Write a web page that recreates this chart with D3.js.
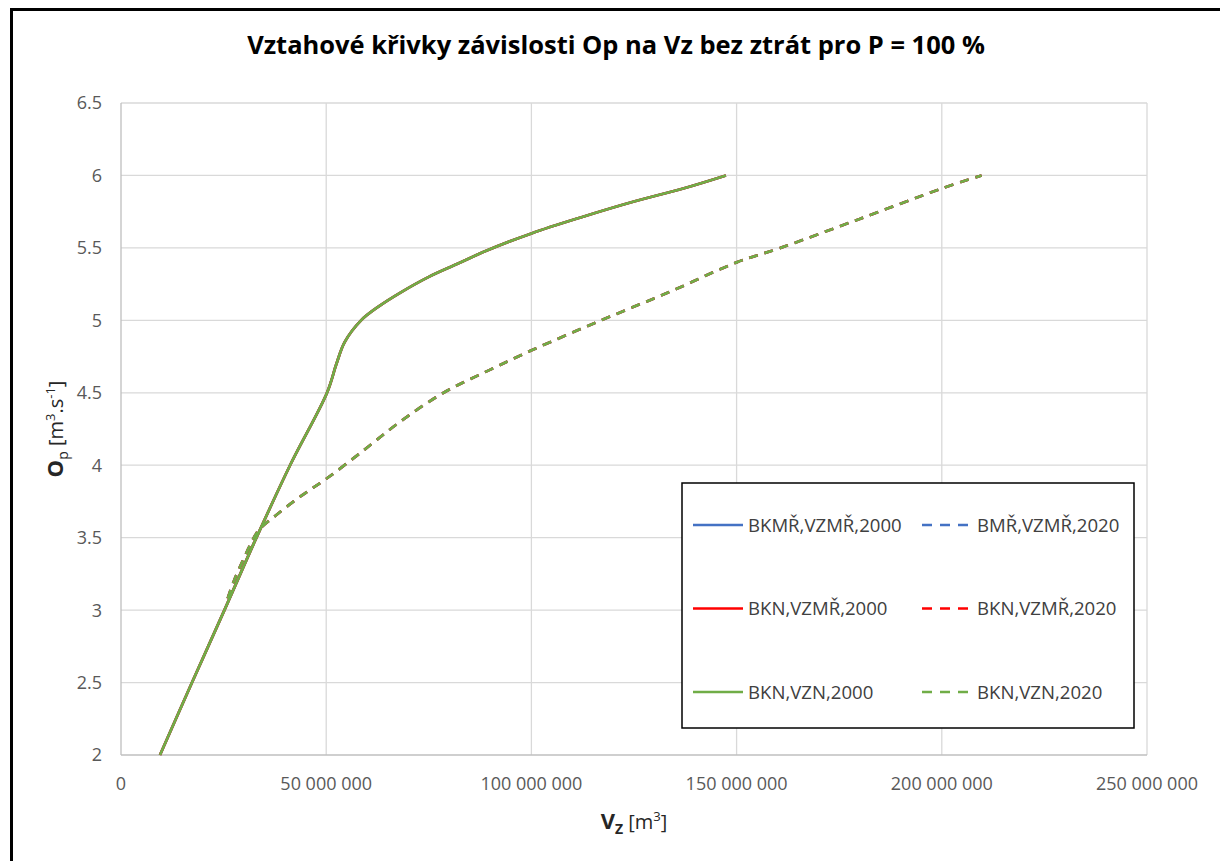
<!DOCTYPE html>
<html>
<head>
<meta charset="utf-8">
<script src="https://cdn.jsdelivr.net/npm/d3@7"></script>
<style>
  body { margin: 0; background: #fff; }
  svg { display: block; }
</style>
</head>
<body>
<script>
// values (volume in m3, discharge in m3/s)
var vol2000 = [9.5e6, 17.3e6, 25.2e6, 33e6, 41.2e6, 50.2e6, 52.5e6, 54.5e6, 58.5e6, 63e6, 68e6, 75e6, 82e6, 89e6, 100e6, 112e6, 125e6, 137e6, 147.4e6];
var op2000  = [2.0, 2.5, 3.0, 3.5, 4.0, 4.5, 4.7, 4.85, 5.0, 5.1, 5.19, 5.3, 5.39, 5.48, 5.6, 5.71, 5.82, 5.91, 6.0];
var vol2020 = [26e6, 27.5e6, 29.5e6, 31.5e6, 33.5e6, 38e6, 44e6, 50.2e6, 59e6, 68e6, 78.6e6, 90e6, 100.6e6, 117e6, 134e6, 150e6, 160.7e6, 180e6, 200e6, 209.7e6];
var op2020  = [3.08, 3.2, 3.33, 3.45, 3.55, 3.66, 3.79, 3.91, 4.1, 4.3, 4.5, 4.66, 4.8, 5.0, 5.2, 5.4, 5.5, 5.7, 5.91, 6.0];

var seriesNames  = ["BKMŘ,VZMŘ,2000", "BMŘ,VZMŘ,2020", "BKN,VZMŘ,2000", "BKN,VZMŘ,2020", "BKN,VZN,2000", "BKN,VZN,2020"];
var seriesColors = ["#4472C4", "#4472C4", "#FF0000", "#FF0000", "#70AD47", "#70AD47"];
var seriesYear   = [2000, 2020, 2000, 2020, 2000, 2020];

var xTicks = [0, 50e6, 100e6, 150e6, 200e6, 250e6];
var yTicks = [2, 2.5, 3, 3.5, 4, 4.5, 5, 5.5, 6, 6.5];

var width = 1220, height = 861;
var margin = {left: 121, right: 73, top: 103, bottom: 106};
var font = "'Open Sans', sans-serif";

var svg = d3.select("body").append("svg")
    .attr("width", width)
    .attr("height", height);

svg.append("rect")
    .attr("x", 11.5).attr("y", 9.5)
    .attr("width", 1240).attr("height", 900)
    .attr("fill", "#fff")
    .attr("stroke", "#000")
    .attr("stroke-width", 3);

var x = d3.scaleLinear().domain([0, 250e6]).range([margin.left, width - margin.right]);
var y = d3.scaleLinear().domain([2, 6.5]).range([height - margin.bottom, margin.top]);

// grid
svg.append("g").selectAll("line")
    .data(xTicks.slice(1))
    .enter().append("line")
    .attr("x1", function(d) { return x(d); })
    .attr("x2", function(d) { return x(d); })
    .attr("y1", y(2)).attr("y2", y(6.5))
    .attr("stroke", "#d9d9d9").attr("stroke-width", 1.3);

svg.append("g").selectAll("line")
    .data(yTicks.slice(1))
    .enter().append("line")
    .attr("x1", x(0)).attr("x2", x(250e6))
    .attr("y1", function(d) { return y(d); })
    .attr("y2", function(d) { return y(d); })
    .attr("stroke", "#d9d9d9").attr("stroke-width", 1.3);

// axis lines
svg.append("line")
    .attr("x1", x(0)).attr("x2", x(0))
    .attr("y1", y(2)).attr("y2", y(6.5))
    .attr("stroke", "#bfbfbf").attr("stroke-width", 1.3);
svg.append("line")
    .attr("x1", x(0)).attr("x2", x(250e6))
    .attr("y1", y(2)).attr("y2", y(2))
    .attr("stroke", "#bfbfbf").attr("stroke-width", 1.3);

// tick labels
var fmt = function(d) { return d3.format(",")(d).replace(/,/g, " "); };

svg.append("g").selectAll("text")
    .data(xTicks)
    .enter().append("text")
    .attr("x", function(d) { return x(d); })
    .attr("y", 790)
    .attr("text-anchor", "middle")
    .attr("font-family", font)
    .attr("font-size", 18)
    .attr("fill", "#595959")
    .text(fmt);

svg.append("g").selectAll("text")
    .data(yTicks)
    .enter().append("text")
    .attr("x", 102)
    .attr("y", function(d) { return y(d); })
    .attr("dy", "0.36em")
    .attr("text-anchor", "end")
    .attr("font-family", font)
    .attr("font-size", 18)
    .attr("fill", "#595959")
    .text(function(d) { return d; });

// series
var line = d3.line()
    .x(function(d) { return x(d[0]); })
    .y(function(d) { return y(d[1]); })
    .curve(d3.curveCatmullRom.alpha(0.5));

var pts2000 = d3.zip(vol2000, op2000);
var pts2020 = d3.zip(vol2020, op2020);

seriesNames.forEach(function(name, i) {
    svg.append("path")
        .datum(seriesYear[i] == 2000 ? pts2000 : pts2020)
        .attr("d", line)
        .attr("fill", "none")
        .attr("stroke", seriesColors[i])
        .attr("stroke-width", 2.7)
        .attr("stroke-dasharray", seriesYear[i] == 2000 ? null : "9,7");
});

// legend
var lg = svg.append("g");
lg.append("rect")
    .attr("x", 682).attr("y", 483)
    .attr("width", 452).attr("height", 245)
    .attr("fill", "#fff")
    .attr("stroke", "#000")
    .attr("stroke-width", 1.5);

seriesNames.forEach(function(name, i) {
    var col = i % 2, row = Math.floor(i / 2);
    var lx = col == 0 ? 693 : 922;
    var ly = 525 + row * 83.5;
    lg.append("line")
        .attr("x1", lx).attr("x2", lx + 50)
        .attr("y1", ly).attr("y2", ly)
        .attr("stroke", seriesColors[i])
        .attr("stroke-width", 2.6)
        .attr("stroke-dasharray", seriesYear[i] == 2000 ? null : "10,8");
    lg.append("text")
        .attr("x", lx + 55)
        .attr("y", ly)
        .attr("dy", "0.36em")
        .attr("font-family", font)
        .attr("font-size", 18.6)
        .attr("fill", "#404040")
        .text(name);
});

// title
var title = svg.append("text")
    .attr("x", 616)
    .attr("y", 54)
    .attr("text-anchor", "middle")
    .attr("font-family", font)
    .attr("font-weight", "bold")
    .attr("font-size", 24)
    .attr("fill", "#000")
    .text("Vztahové křivky závislosti Op na Vz bez ztrát pro P = 100 %");
var tw = title.node().getComputedTextLength();
title.attr("font-size", 24 * 738 / tw);

// axis titles
var xt = svg.append("text")
    .attr("x", 634)
    .attr("y", 829)
    .attr("text-anchor", "middle")
    .attr("font-family", font)
    .attr("fill", "#262626");
xt.append("tspan").attr("font-weight", "bold").attr("font-size", 22).text("V");
xt.append("tspan").attr("font-weight", "bold").attr("font-size", 14).attr("dy", 5).text("Z");
xt.append("tspan").attr("font-size", 20).attr("dy", -5).text(" [m");
xt.append("tspan").attr("font-size", 13).attr("dy", -8).text("3");
xt.append("tspan").attr("font-size", 20).attr("dy", 8).text("]");

var yt = svg.append("text")
    .attr("transform", "translate(63," + ((y(2) + y(6.5)) / 2) + ") rotate(-90)")
    .attr("text-anchor", "middle")
    .attr("font-family", font)
    .attr("fill", "#262626");
yt.append("tspan").attr("font-weight", "bold").attr("font-size", 22).text("O");
yt.append("tspan").attr("font-size", 14).attr("dy", 5).text("p");
yt.append("tspan").attr("font-size", 20).attr("dy", -5).text(" [m");
yt.append("tspan").attr("font-size", 13).attr("dy", -8).text("3");
yt.append("tspan").attr("font-size", 20).attr("dy", 8).text(".s");
yt.append("tspan").attr("font-size", 13).attr("dy", -8).text("-1");
yt.append("tspan").attr("font-size", 20).attr("dy", 8).text("]");
</script>
</body>
</html>
